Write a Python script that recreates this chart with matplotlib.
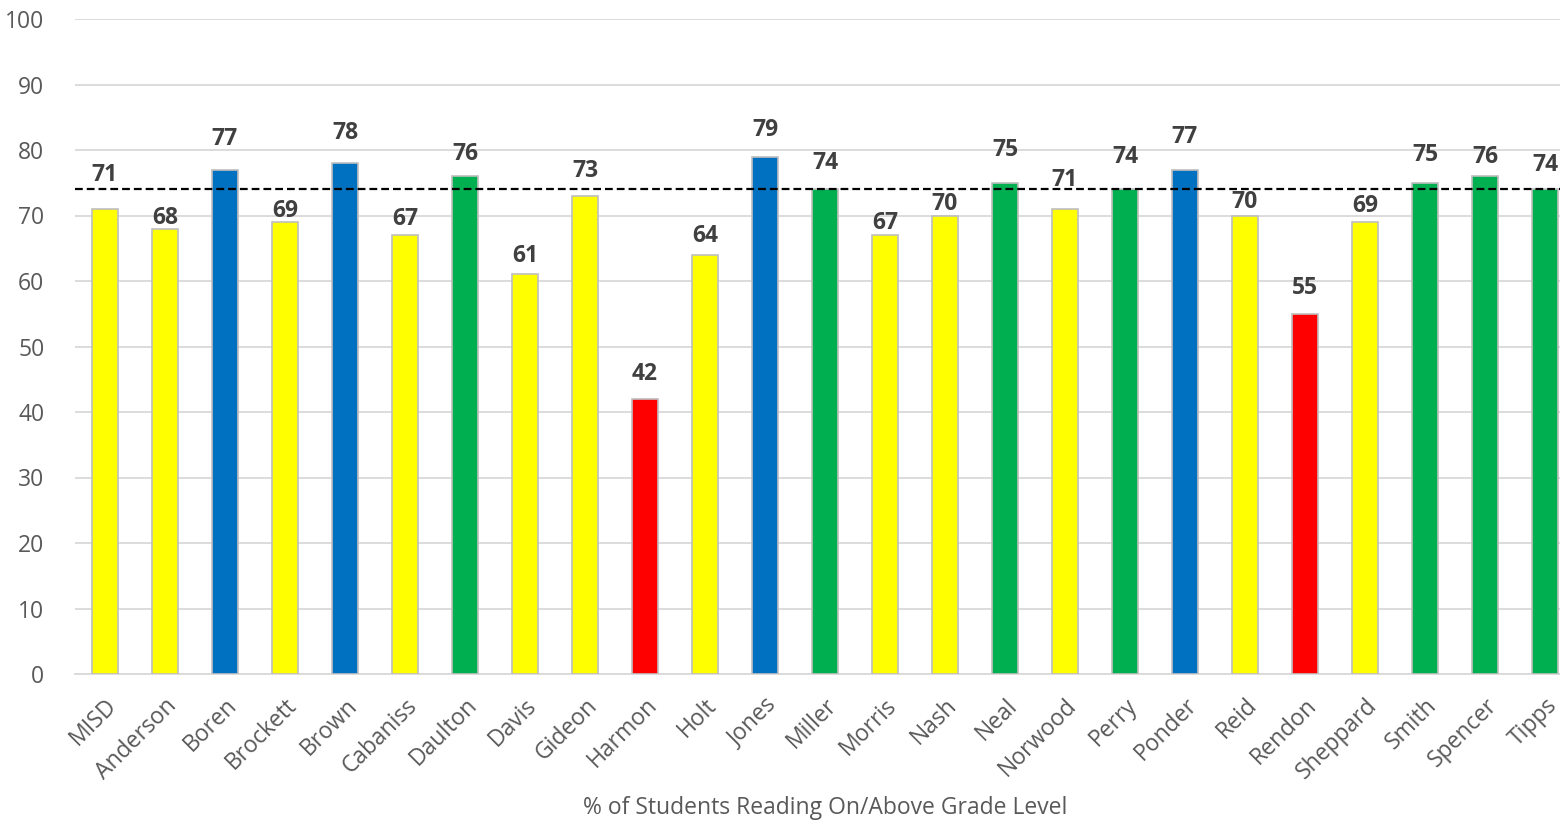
import matplotlib
matplotlib.use('Agg')
import matplotlib.pyplot as plt
import numpy as np

# campuses and % reading on/above grade level
schools = ['MISD', 'Anderson', 'Boren', 'Brockett', 'Brown', 'Cabaniss', 'Daulton',
           'Davis', 'Gideon', 'Harmon', 'Holt', 'Jones', 'Miller', 'Morris', 'Nash',
           'Neal', 'Norwood', 'Perry', 'Ponder', 'Reid', 'Rendon', 'Sheppard',
           'Smith', 'Spencer', 'Tipps']
values = [71, 68, 77, 69, 78, 67, 76, 61, 73, 42, 64, 79, 74, 67, 70,
          75, 71, 74, 77, 70, 55, 69, 75, 76, 74]
levels = ['Y', 'Y', 'B', 'Y', 'B', 'Y', 'G', 'Y', 'Y', 'R', 'Y', 'B', 'G', 'Y', 'Y',
          'G', 'Y', 'G', 'B', 'Y', 'R', 'Y', 'G', 'G', 'G']
target = 74

# label lift above bar top (pixels), as placed in the original
label_lift = [34, 11, 31, 11, 30, 16, 22, 18, 25, 25, 19, 27, 26, 12, 11,
              33, 29, 32, 33, 13, 26, 16, 28, 19, 24]

colmap = {'Y': '#FFFF00', 'B': '#0070C0', 'G': '#00B050', 'R': '#FF0000'}
plt.rcParams['font.family'] = ['Open Sans', 'DejaVu Sans']

fig = plt.figure(figsize=(15.6, 8.24), dpi=100)
ax = fig.add_axes([75/1560, 150/824, 1500/1560, 655/824])

x = np.arange(len(schools))
cols = [colmap[c] for c in levels]
bars = ax.bar(x, values, width=0.42, color=cols, edgecolor='#BFBFBF', linewidth=1.2, zorder=3)

for i, b in enumerate(bars):
    ax.annotate(str(values[i]), (b.get_x() + b.get_width()/2, values[i]),
                xytext=(0, label_lift[i]), textcoords='offset pixels',
                ha='center', va='center', fontsize=16.5, fontweight='bold',
                color='#404040', zorder=5, annotation_clip=False)

ax.axhline(target, color='black', linestyle=(0, (3.5, 1.8)), linewidth=1.6, zorder=4)

ax.set_xlim(-0.5, len(schools) - 0.5)
ax.set_ylim(0, 100)
ax.set_yticks(range(0, 101, 10))
ax.yaxis.grid(True, color='#D9D9D9', linewidth=1.3, zorder=0)
ax.set_axisbelow(True)
for s in ['top', 'right', 'left']:
    ax.spines[s].set_visible(False)
ax.spines['bottom'].set_color('#D9D9D9')
ax.spines['bottom'].set_linewidth(1.3)
ax.tick_params(axis='both', length=0, labelsize=16.5, colors='#595959')
ax.tick_params(axis='y', pad=22)
ax.set_xticks(x)
ax.set_xticklabels(schools, rotation=45, ha='right', rotation_mode='anchor')
ax.tick_params(axis='x', pad=14)
ax.set_xlabel('% of Students Reading On/Above Grade Level', fontsize=16.5, color='#595959')
ax.xaxis.set_label_coords((825 - 75) / 1500, -122/655)

fig.savefig('out.png', dpi=100)
